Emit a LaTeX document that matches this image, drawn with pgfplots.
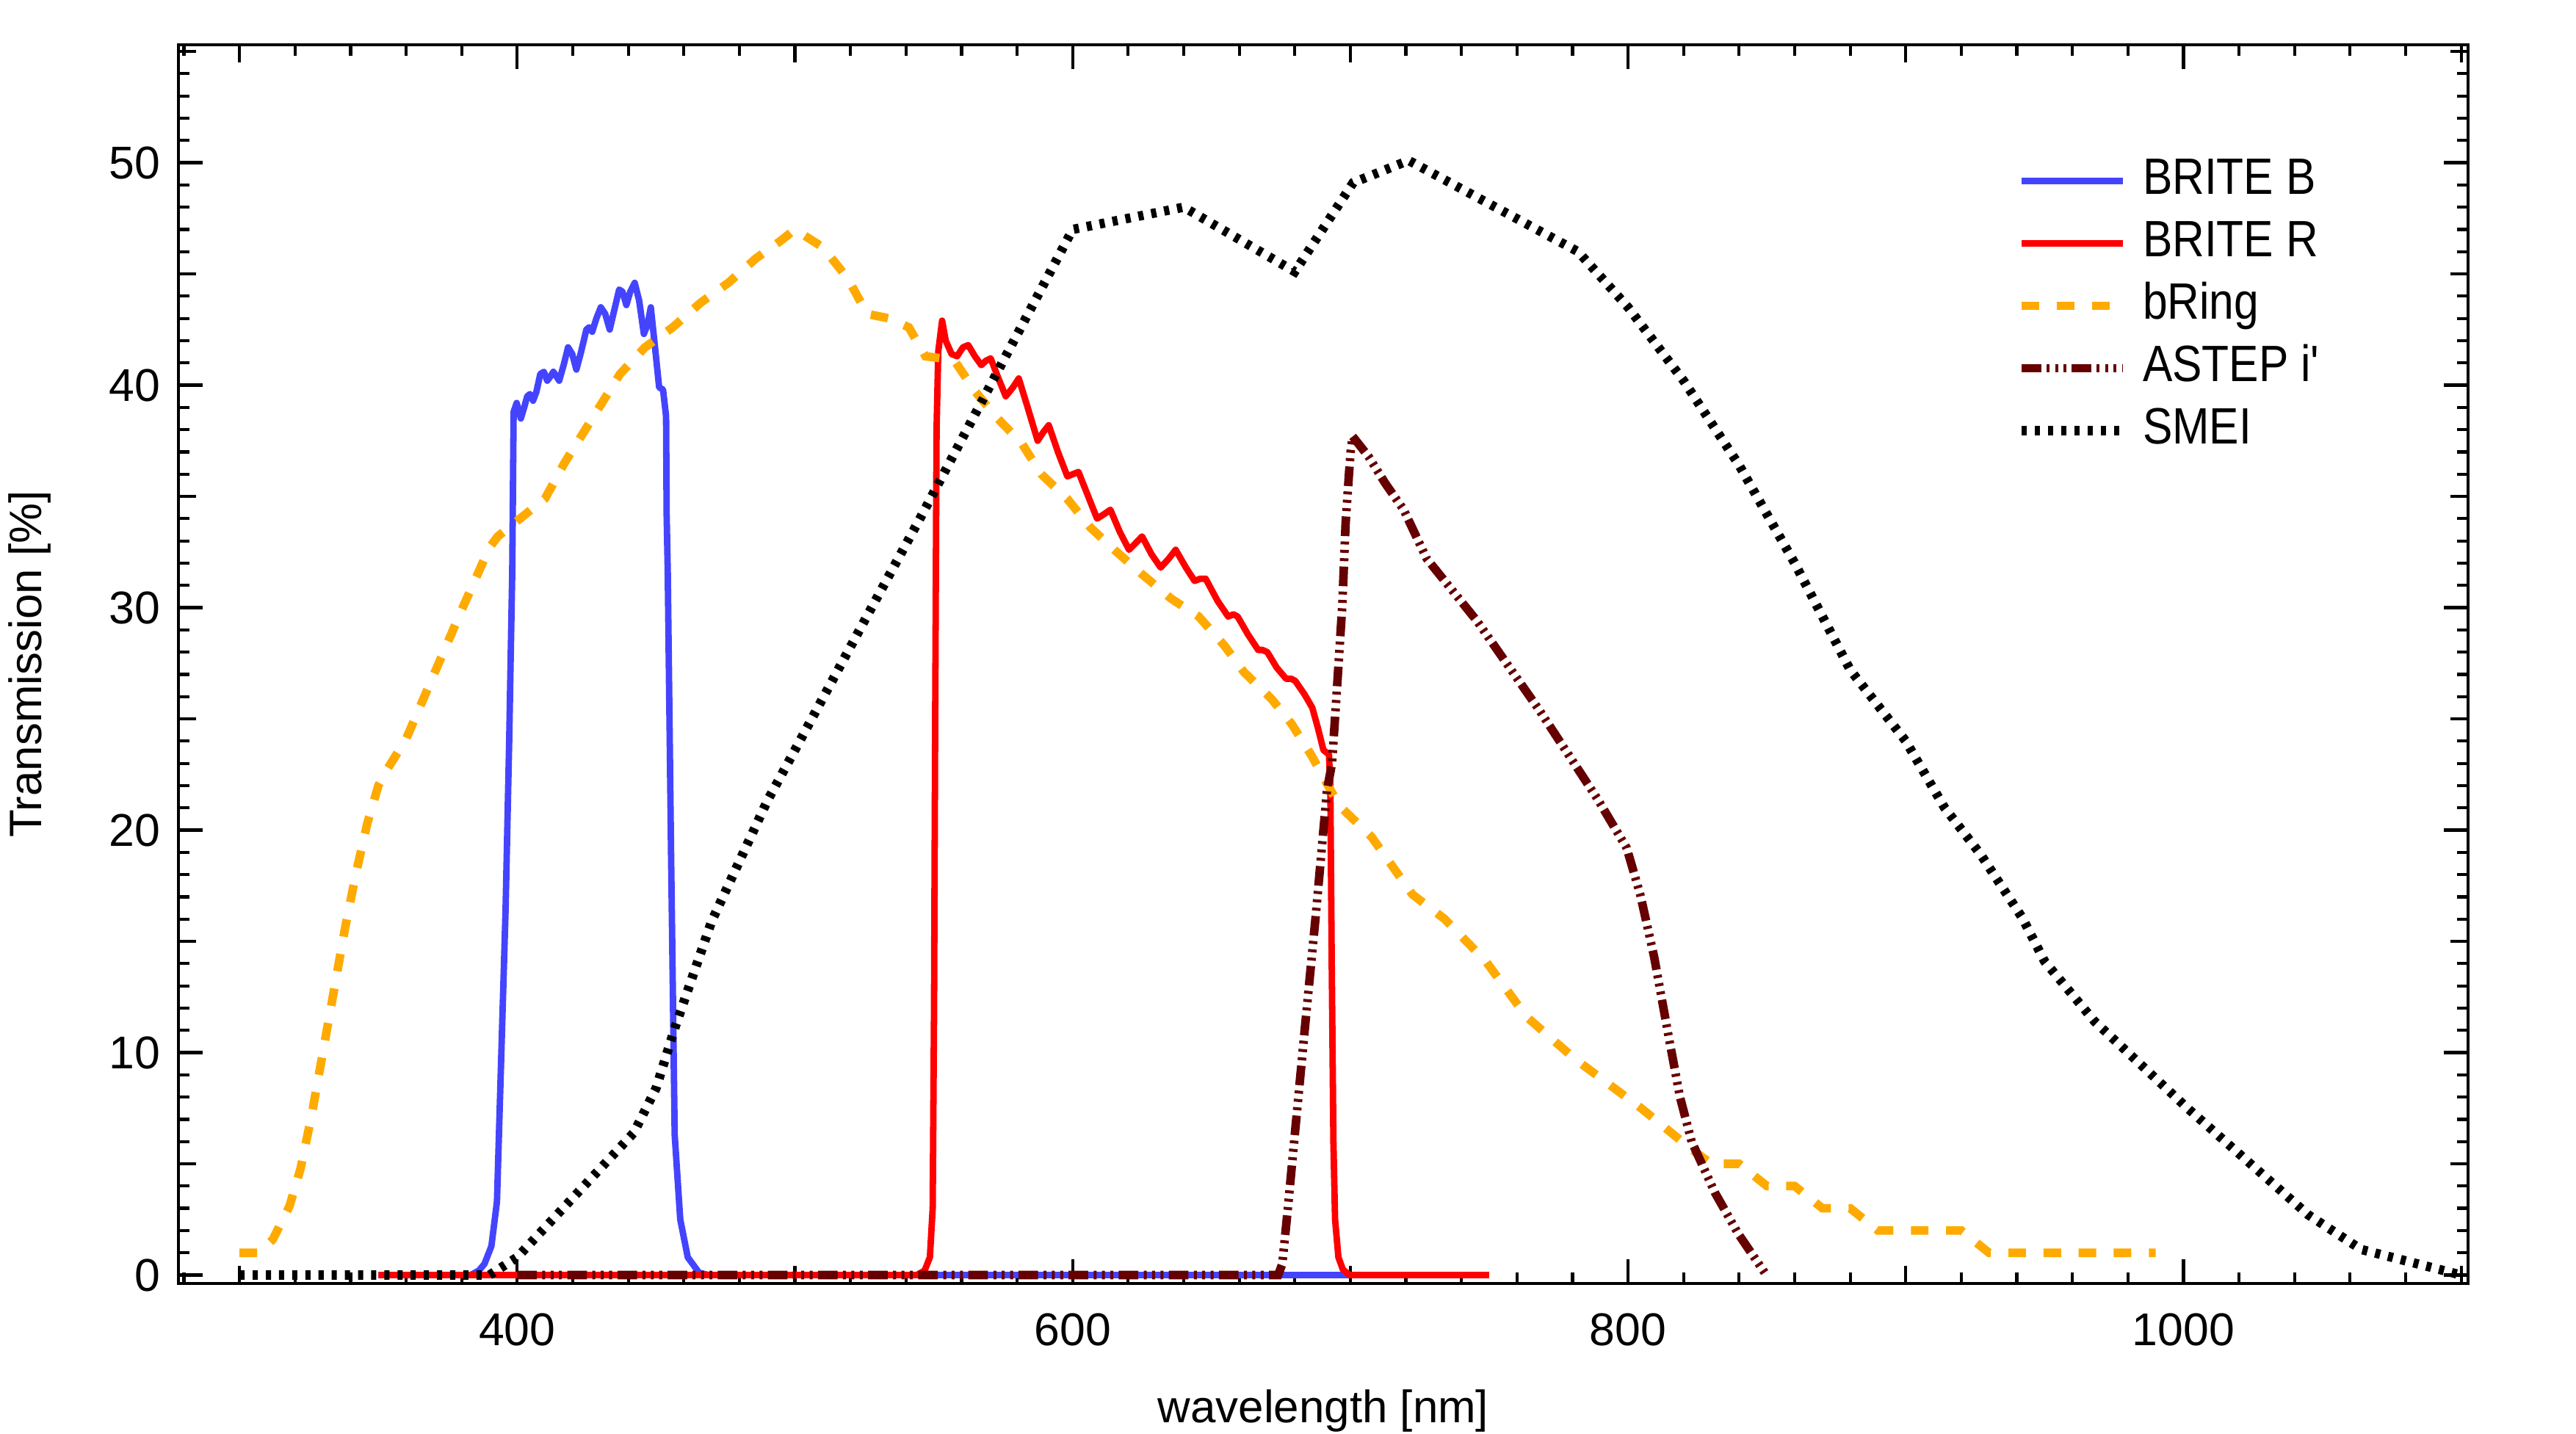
\documentclass[border=0pt]{standalone}
\usepackage{fontspec}
\setmainfont{Liberation Sans}
\newfontfamily\legfont{Liberation Sans}[FakeStretch=0.87]
\usepackage{pgfplots}
\pgfplotsset{compat=1.18}
\definecolor{briteb}{RGB}{68,68,255}
\definecolor{briter}{RGB}{255,0,0}
\definecolor{bring}{RGB}{255,170,0}
\definecolor{astep}{RGB}{102,0,0}
\begin{document}
\begin{tikzpicture}
\begin{axis}[
  name=ax,
  width=15.59cm, height=8.435cm, scale only axis,
  xmin=278, xmax=1102.5, ymin=-0.38, ymax=55.3,
  axis line style={line width=0.65pt},
  every tick/.style={black, line width=0.6pt},
  tick align=inside,
  xtick={400,600,800,1000},
  minor xtick={280,300,...,1100},
  ytick={0,10,...,50},
  minor ytick={0,1,...,55},
  major tick length=4.7pt, minor tick length=2.2pt,
  extra x ticks={300,500,700,900,1100}, extra x tick labels={},
  extra x tick style={major tick length=3.4pt},
  extra y ticks={5,15,...,55}, extra y tick labels={},
  extra y tick style={major tick length=3.4pt},
  tick label style={font=\fontsize{8.9}{10}\selectfont},
  /pgf/number format/assume math mode=true,
  /pgf/number format/1000 sep={},
  xticklabel style={yshift=-2.2pt},
  xlabel={wavelength [nm]},
  ylabel={Transmission [\%]},
  label style={font=\fontsize{8.8}{10}\selectfont},
  xlabel style={at={(axis description cs:0.5,-0.1122)}, anchor=base},
  ylabel style={at={(axis description cs:-0.0649,0.5)}, anchor=center},
  legend style={draw=none, fill=none, inner sep=0pt, outer sep=0pt,
    at={(axis description cs:0.803,0.9135)}, anchor=north west,
    font=\legfont\fontsize{9.9}{11}\selectfont, row sep=0.9pt,
    nodes={inner sep=1pt, text height=7.2pt, text depth=2pt},
    /tikz/every odd column/.append style={column sep=2pt}},
  legend cell align=left,
  legend image code/.code={\draw[#1] (0cm,0cm) -- (0.6875cm,0cm);},
]
\addplot[briteb, line width=1.25pt, line join=round] coordinates {
(350,0) (383.2,0) (386.2,0.2) (388.2,0.5) (390.7,1.3) (392.7,3.3) (394,8.8) (395.8,16.4)
(397.1,24) (398.2,31.6) (398.7,38.8) (399.8,39.2) (401.3,38.5) (402.5,39.0) (403.6,39.5)
(404.6,39.6) (405.7,39.3) (406.9,39.7) (408.3,40.5) (409.6,40.6) (410.8,40.2) (412,40.4)
(413,40.6) (414.1,40.4) (415.1,40.2) (416.7,40.9) (418.3,41.7) (419.8,41.4) (421.3,40.7)
(423,41.5) (424.9,42.5) (425.9,42.6) (427,42.4) (428.5,43.0) (430.1,43.5) (431.7,43.2)
(433.3,42.5) (435,43.4) (436.7,44.3) (437.9,44.2) (439.3,43.6) (440.7,44.2) (442.3,44.6)
(443.9,43.8) (445.6,42.3) (446.9,42.7) (448.1,43.5) (449.7,41.6) (451.1,39.9) (452.5,39.8)
(453.6,38.6) (453.8,34.2) (454.2,31.6) (455.4,18.9) (456.7,6.3) (458.7,2.5) (461.4,0.8)
(465.5,0.1) (469,0) (750,0)};
\addlegendentry{BRITE B}
\addplot[briter, line width=1.25pt, line join=round] coordinates {
(350,0) (543.9,0) (546.7,0.2) (548.6,0.8) (549.6,3) (550.1,12) (550.5,25) (551,38) (551.6,41.5)
(553,42.9) (554.3,42) (556.4,41.4) (558.4,41.3) (560.5,41.7) (562.4,41.8) (564.8,41.3)
(567.1,40.9) (568.8,41.1) (570.5,41.2) (573.3,40.3) (575.9,39.5) (578.5,39.9) (580.6,40.3)
(583.8,39) (587.4,37.5) (589.5,37.9) (591.4,38.2) (594.7,37) (598.1,35.9) (600.1,36.0)
(602.1,36.1) (605.6,35) (608.8,34.0) (611.3,34.2) (613.6,34.4) (617,33.4) (620.3,32.6)
(622.7,32.9) (625,33.2) (628.4,32.4) (631.7,31.8) (634.6,32.2) (637.1,32.6) (640.8,31.8)
(643.9,31.2) (646,31.3) (647.9,31.3) (652.2,30.3) (656,29.6) (657.9,29.7) (659.4,29.6)
(663.1,28.8) (666.8,28.1) (668.3,28.1) (670.1,28.0) (673.5,27.3) (676.9,26.8) (678.8,26.8)
(680.2,26.7) (683.5,26.1) (686.3,25.5) (688.3,24.6) (690.3,23.6) (692.3,23.4) (692.8,22)
(693.3,14) (693.9,6) (694.5,2.5) (695.7,0.8) (697.3,0.25) (699.7,0) (750,0)};
\addlegendentry{BRITE R}
\addplot[bring, line width=1.66pt, dash pattern=on 3.4pt off 3.4pt] coordinates {
(300,1) (307,1) (312,1.6) (318,3.1) (322,4.8) (326,7.2) (330,10) (334,12.8) (338,15.6)
(342,18.1) (346,20.3) (350,22) (353,22.7) (360,24.1) (370,27) (380,29.9) (390,32.7)
(393,33.2) (400,33.9) (410,34.9) (417,36.5) (424,37.9) (430,39.1) (437,40.5) (446,41.7)
(456,42.6) (466,43.7) (476,44.6) (486,45.7) (495,46.5) (500,47) (510,46.2) (519,44.8)
(526,43.2) (534,43.0) (541,42.6) (547,41.3) (553,41.2) (558,41.0) (565,39.7) (573,38.5)
(581.6,37.4) (588.7,36.0) (598,34.9) (606.4,33.6) (615,32.6) (625,31.5) (635.5,30.4)
(645.4,29.6) (654.6,28.3) (661.7,27.1) (671.6,25.9) (678.7,24.8) (685.8,23.4) (696,21.1)
(707.6,19.7) (722.4,17.1) (734,16) (748.8,14.1) (763.5,11.6) (781,9.7) (804.7,7.5)
(822.4,5.7) (830,5) (840,5) (850,4) (860,4) (870,3) (880,3) (890,2) (920,2) (930,1) (990,1)};
\addlegendentry{bRing}
\addplot[astep, line width=1.66pt, dash pattern=on 3.8pt off 1.05pt on 0.57pt off 1.05pt on 0.57pt off 1.05pt on 0.57pt off 1.05pt] coordinates {
(400,0) (674,0) (675.5,0.5) (677.5,3) (679,5) (683.7,11.2) (687.5,16.1) (691.6,21.8)
(693.4,23) (695.2,26.4) (697.1,30.1) (698.3,33.8) (699.5,36) (700.1,37) (700.8,37.7)
(706.5,36.8) (712.5,35.6) (719.2,34.4) (727.5,32.2) (745.6,29.4) (768,25.4) (789,21.4)
(799.5,19.2) (804.4,17.1) (809.4,14.3) (814.5,10.8) (818.7,8) (822.9,6) (831.3,3.7)
(839.7,1.85) (849.8,0)};
\addlegendentry{ASTEP i\textquotesingle}
\addplot[black, line width=1.8pt, dash pattern=on 1.0pt off 1.55pt] coordinates {
(300,0) (390,0) (400,0.8) (442,6.4) (450,8.4) (457,11.2) (470,15.9) (490,21.3) (500,23.6)
(525,29.4) (545,34) (600,47) (640,48) (680,45.1) (701,49.1) (721,50.1) (782,46)
(800,43.5) (820,40.2) (840,36.4) (860,32) (880,27.2) (900,24) (914,21) (927,18.9)
(942,16.05) (950,14.1) (968,11.4) (1001,7.55) (1045,2.7) (1064,1.15) (1100,0)};
\addlegendentry{SMEI}
\end{axis}
\pgfresetboundingbox
\path[use as bounding box] ([xshift=-1.215cm,yshift=-1.02cm]ax.south west) rectangle ([xshift=0.735cm,yshift=0.305cm]ax.north east);
\end{tikzpicture}
\end{document}
